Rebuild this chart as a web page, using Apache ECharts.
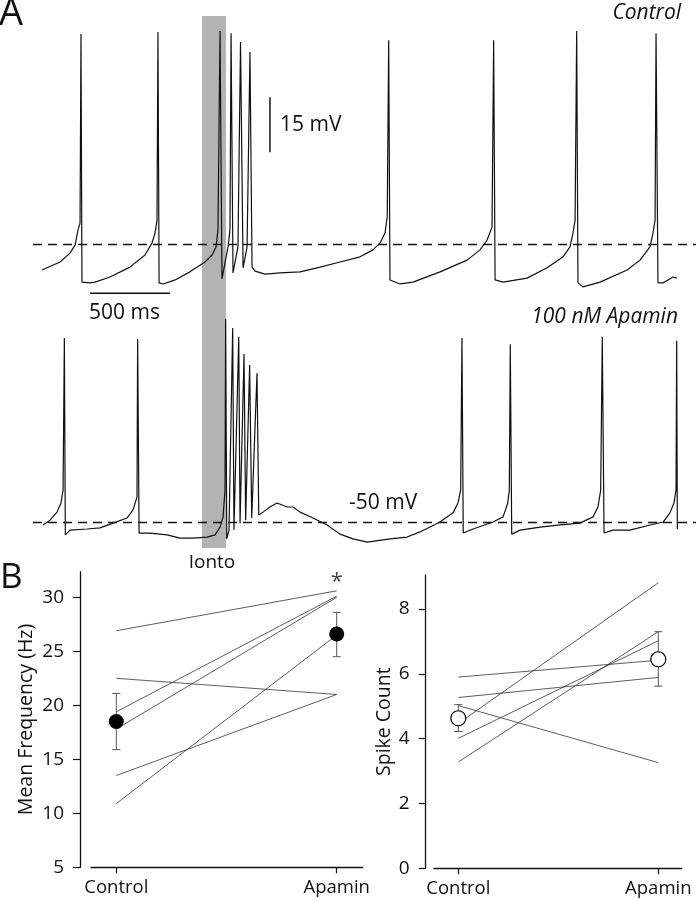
<!DOCTYPE html>
<html>
<head>
<meta charset="utf-8">
<script src="https://cdn.jsdelivr.net/npm/echarts@6/dist/echarts.min.js"></script>
<style>
  html, body { margin: 0; padding: 0; background: #fff; }
  #main { width: 696px; height: 900px; }
</style>
</head>
<body>
<div id="main"></div>
<script>
// ---- panel A: membrane potential traces, [time ms, mV] ----
const ctrlTrace = [
  [56,-57.1],[169,-54.9],[231,-52.5],[263,-50.3],[281,-46.2],[294,-44.3],[300,7.3],[306,-60.4],
  [356,-60.6],[388,-60.4],[481,-59.0],[606,-56.3],[700,-53.0],[744,-49.7],[763,-47.0],[775,-43.5],
  [781,7.8],[788,-60.6],[813,-60.9],[888,-59.8],[981,-57.6],[1075,-54.9],[1119,-53.0],[1144,-50.8],
  [1156,-46.2],[1169,8.1],[1181,-59.5],[1219,-50.8],[1231,-46.2],[1238,7.5],[1250,-57.9],[1281,-50.8],
  [1297,5.1],[1313,-56.5],[1338,-50.8],[1356,2.4],[1369,-56.3],[1388,-57.4],[1450,-58.2],[1544,-57.9],
  [1669,-57.6],[1794,-56.3],[1919,-54.9],[2044,-53.5],[2125,-51.6],[2169,-49.7],[2200,-47.0],[2214,-42.6],
  [2223,5.6],[2231,-59.8],[2294,-60.9],[2375,-60.4],[2544,-57.6],[2713,-54.4],[2794,-51.6],[2838,-48.9],
  [2869,-45.4],[2879,5.6],[2888,-59.8],[2938,-60.4],[3088,-59.3],[3213,-56.5],[3313,-53.5],[3356,-50.8],
  [3375,-47.0],[3388,-43.5],[3398,8.1],[3406,-60.6],[3438,-61.7],[3544,-60.4],[3713,-57.1],[3794,-54.4],
  [3856,-50.8],[3875,-47.0],[3888,-43.5],[3894,7.5],[3906,-60.6],[3938,-60.6],[3969,-59.8],[4000,-59.0],
  [4025,-59.3]
];
const apaTrace = [
  [63,-50.8],[106,-49.5],[150,-47.3],[175,-44.8],[188,-41.3],[196,0.2],[202,-53.5],[231,-52.2],
  [338,-51.9],[419,-51.6],[500,-50.3],[588,-48.9],[625,-46.7],[650,-43.2],[654,-0.1],[663,-53.0],
  [731,-53.0],[838,-53.5],[919,-54.4],[1000,-54.4],[1088,-54.1],[1138,-53.5],[1169,-51.4],[1188,-48.6],
  [1200,-41.3],[1204,5.4],[1211,-54.6],[1225,-52.2],[1248,2.9],[1256,-52.2],[1286,0.5],[1294,-50.3],
  [1319,-4.2],[1329,-49.5],[1354,-7.2],[1367,-48.9],[1400,-9.4],[1411,-48.1],[1438,-47.3],[1481,-45.9],
  [1525,-44.8],[1588,-45.9],[1625,-45.9],[1669,-47.3],[1750,-48.9],[1838,-50.8],[1919,-53.3],[2000,-54.6],
  [2088,-55.5],[2231,-54.6],[2338,-54.1],[2419,-52.7],[2544,-50.0],[2625,-47.5],[2656,-44.8],[2673,-41.3],
  [2681,0.2],[2689,-53.0],[2750,-51.9],[2875,-50.0],[2938,-48.6],[2967,-44.8],[2977,-41.3],[2983,-1.5],
  [2992,-53.3],[3044,-52.2],[3169,-51.4],[3294,-50.8],[3419,-50.3],[3500,-48.6],[3531,-45.9],[3548,-41.3],
  [3558,0.5],[3569,-53.0],[3625,-52.2],[3731,-52.2],[3856,-50.8],[3938,-50.0],[3981,-47.5],[4006,-44.8],
  [4019,-41.3],[4023,-0.6],[4027,-51.9]
];
const restLevel = -50;            // dashed reference line, mV
const iontoWindow = [1056, 1206]; // ms
const barTime = [[356,-63.4],[856,-63.4]];   // 500 ms
const barVolt = [[1481,-25],[1481,-10]];     // 15 mV
const T_MAX = 4143.75;

// ---- panel B ----
const conditions = ['Control', 'Apamin'];
const freqControl = [26.9, 19.4, 17.8, 22.5, 13.5, 10.9];
const freqApamin  = [30.6, 30.1, 30.0, 21.0, 21.0, 26.5];
const freqMean = [18.5, 26.6];
const freqErr  = [[15.9, 21.1], [24.5, 28.6]];
const freqTicks = [5, 10, 15, 20, 25, 30];

const countControl = [5.9, 5.27, 5.02, 4.47, 4.01, 3.28];
const countApamin  = [6.42, 5.89, 3.26, 8.81, 7.02, 7.30];
const countMean = [4.63, 6.45];
const countErr  = [[4.22, 5.05], [5.62, 7.30]];
const countTicks = [0, 2, 4, 6, 8];

const FONT = 'Open Sans';
const INK = '#111';

const chart = echarts.init(document.getElementById('main'));

function hiddenAxis(extra) {
  return Object.assign({ type: 'value', show: false, splitLine: { show: false } }, extra);
}

function catAxis(gridIndex, min, max) {
  return {
    type: 'value', gridIndex: gridIndex, min: min, max: max,
    axisLine: { onZero: false, lineStyle: { color: INK, width: 1.3 } },
    axisTick: { length: 6, lineStyle: { color: INK, width: 1.2 }, customValues: [0, 1] },
    axisLabel: { customValues: [0, 1], formatter: v => conditions[Math.round(v)],
      color: INK, fontFamily: FONT, fontSize: 18.5, margin: 11 },
    splitLine: { show: false }
  };
}

function valAxis(gridIndex, min, max, ticks, name, gap, offset) {
  return {
    type: 'value', gridIndex: gridIndex, min: min, max: max, offset: offset,
    name: name, nameLocation: 'middle', nameGap: gap,
    nameTextStyle: { color: INK, fontFamily: FONT, fontSize: 19.5 },
    axisLine: { show: true, onZero: false, lineStyle: { color: INK, width: 1.3 } },
    axisTick: { show: true, length: 7, lineStyle: { color: INK, width: 1.2 }, customValues: ticks },
    axisLabel: { customValues: ticks, color: INK, fontFamily: FONT, fontSize: 19, margin: 16 },
    splitLine: { show: false }
  };
}

function pairLines(ctrl, apa, xi, yi) {
  return ctrl.map((c, i) => ({
    type: 'line', xAxisIndex: xi, yAxisIndex: yi, data: [[0, c], [1, apa[i]]],
    showSymbol: false, silent: true, z: 2,
    lineStyle: { color: '#333', width: 0.8 }
  }));
}

function errBars(err, xi, yi) {
  return {
    type: 'custom', xAxisIndex: xi, yAxisIndex: yi, z: 3, silent: true,
    data: err.map((e, i) => [i, e[0], e[1]]),
    encode: { x: 0, y: [1, 2] },
    renderItem: (params, api) => {
      const x = api.value(0);
      const lo = api.coord([x, api.value(1)]);
      const hi = api.coord([x, api.value(2)]);
      const w = 4;
      const st = { stroke: '#555', lineWidth: 1 };
      return {
        type: 'group', children: [
          { type: 'line', shape: { x1: lo[0], y1: lo[1], x2: hi[0], y2: hi[1] }, style: st },
          { type: 'line', shape: { x1: lo[0] - w, y1: lo[1], x2: lo[0] + w, y2: lo[1] }, style: st },
          { type: 'line', shape: { x1: hi[0] - w, y1: hi[1], x2: hi[0] + w, y2: hi[1] }, style: st }
        ]
      };
    }
  };
}

function dashed() {
  return {
    silent: true, symbol: ['none', 'none'], label: { show: false },
    lineStyle: { color: INK, type: [9, 6], width: 1.3 },
    data: [{ yAxis: restLevel }]
  };
}

function label(text, x, y, size, align, italic) {
  return {
    type: 'text', x: x, y: y, silent: true,
    style: { text: text, fill: INK, align: align, verticalAlign: 'middle',
      font: (italic ? 'italic ' : '') + size + 'px "Open Sans"' }
  };
}

const traceStyle = { color: INK, width: 1.2 };

const option = {
  animation: false,
  backgroundColor: '#fff',
  grid: [
    { left: 33, right: 0, top: 16.7, height: 282.3, outerBoundsMode: 'none' },
    { left: 33, right: 0, top: 302, height: 256.7, outerBoundsMode: 'none' },
    { left: 33, right: 0, top: 16, height: 532, outerBoundsMode: 'none' },
    { left: 91, top: 571.7, width: 271.7, height: 295.6, outerBoundsMode: 'none' },
    { left: 434, top: 575, width: 247.7, height: 293.3, outerBoundsMode: 'none' }
  ],
  xAxis: [
    hiddenAxis({ gridIndex: 0, min: 0, max: T_MAX }),
    hiddenAxis({ gridIndex: 1, min: 0, max: T_MAX }),
    hiddenAxis({ gridIndex: 2, min: 0, max: T_MAX }),
    catAxis(3, -0.1148, 1.118),
    catAxis(4, -0.1215, 1.117)
  ],
  yAxis: [
    hiddenAxis({ gridIndex: 0, min: -65, max: 12 }),
    hiddenAxis({ gridIndex: 1, min: -60, max: 10 }),
    hiddenAxis({ gridIndex: 2, min: 0, max: 1 }),
    valAxis(3, 5, 32.37, freqTicks, 'Mean Frequency (Hz)', 44, 11),
    valAxis(4, 0, 9.05, countTicks, 'Spike Count', 30, 8.3)
  ],
  graphic: [
    label('A', -1, 14, 38, 'left', false),
    label('B', 0, 578, 35, 'left', false),
    label('Control', 681, 13, 21, 'right', true),
    label('100 nM Apamin', 678, 317, 21, 'right', true),
    label('-50 mV', 349, 503, 21, 'left', false),
    label('15 mV', 280, 125, 21, 'left', false),
    label('500 ms', 89, 313, 21, 'left', false),
    label('Ionto', 212, 563, 19, 'center', false)
  ],
  series: [
    {
      type: 'line', xAxisIndex: 2, yAxisIndex: 2, data: [[iontoWindow[0], 0]], showSymbol: false,
      lineStyle: { opacity: 0 }, silent: true, z: 1,
      markArea: { silent: true, itemStyle: { color: '#b3b3b3' },
        data: [[{ xAxis: iontoWindow[0] }, { xAxis: iontoWindow[1] }]] }
    },
    {
      type: 'line', xAxisIndex: 0, yAxisIndex: 0, data: ctrlTrace, showSymbol: false,
      lineStyle: traceStyle, silent: true, z: 3, markLine: dashed()
    },
    {
      type: 'line', xAxisIndex: 1, yAxisIndex: 1, data: apaTrace, showSymbol: false,
      lineStyle: traceStyle, silent: true, z: 3, markLine: dashed()
    },
    { type: 'line', xAxisIndex: 0, yAxisIndex: 0, data: barTime, showSymbol: false,
      lineStyle: { color: INK, width: 1.5 }, silent: true },
    { type: 'line', xAxisIndex: 0, yAxisIndex: 0, data: barVolt, showSymbol: false,
      lineStyle: { color: INK, width: 1.5 }, silent: true },

    ...pairLines(freqControl, freqApamin, 3, 3),
    errBars(freqErr, 3, 3),
    {
      type: 'scatter', xAxisIndex: 3, yAxisIndex: 3, z: 4, silent: true,
      data: freqMean.map((v, i) => [i, v]), symbolSize: 15,
      itemStyle: { color: '#000', opacity: 1 }
    },
    {
      type: 'scatter', xAxisIndex: 3, yAxisIndex: 3, z: 4, silent: true,
      data: [[1, 31.4]], symbolSize: 0,
      label: { show: true, position: 'inside', formatter: '*', color: INK, fontFamily: FONT, fontSize: 22 }
    },

    ...pairLines(countControl, countApamin, 4, 4),
    errBars(countErr, 4, 4),
    {
      type: 'scatter', xAxisIndex: 4, yAxisIndex: 4, z: 4, silent: true,
      data: countMean.map((v, i) => [i, v]), symbolSize: 15,
      itemStyle: { color: '#fff', borderColor: '#000', borderWidth: 1.2, opacity: 1 }
    }
  ]
};

chart.setOption(option);
</script>
</body>
</html>
